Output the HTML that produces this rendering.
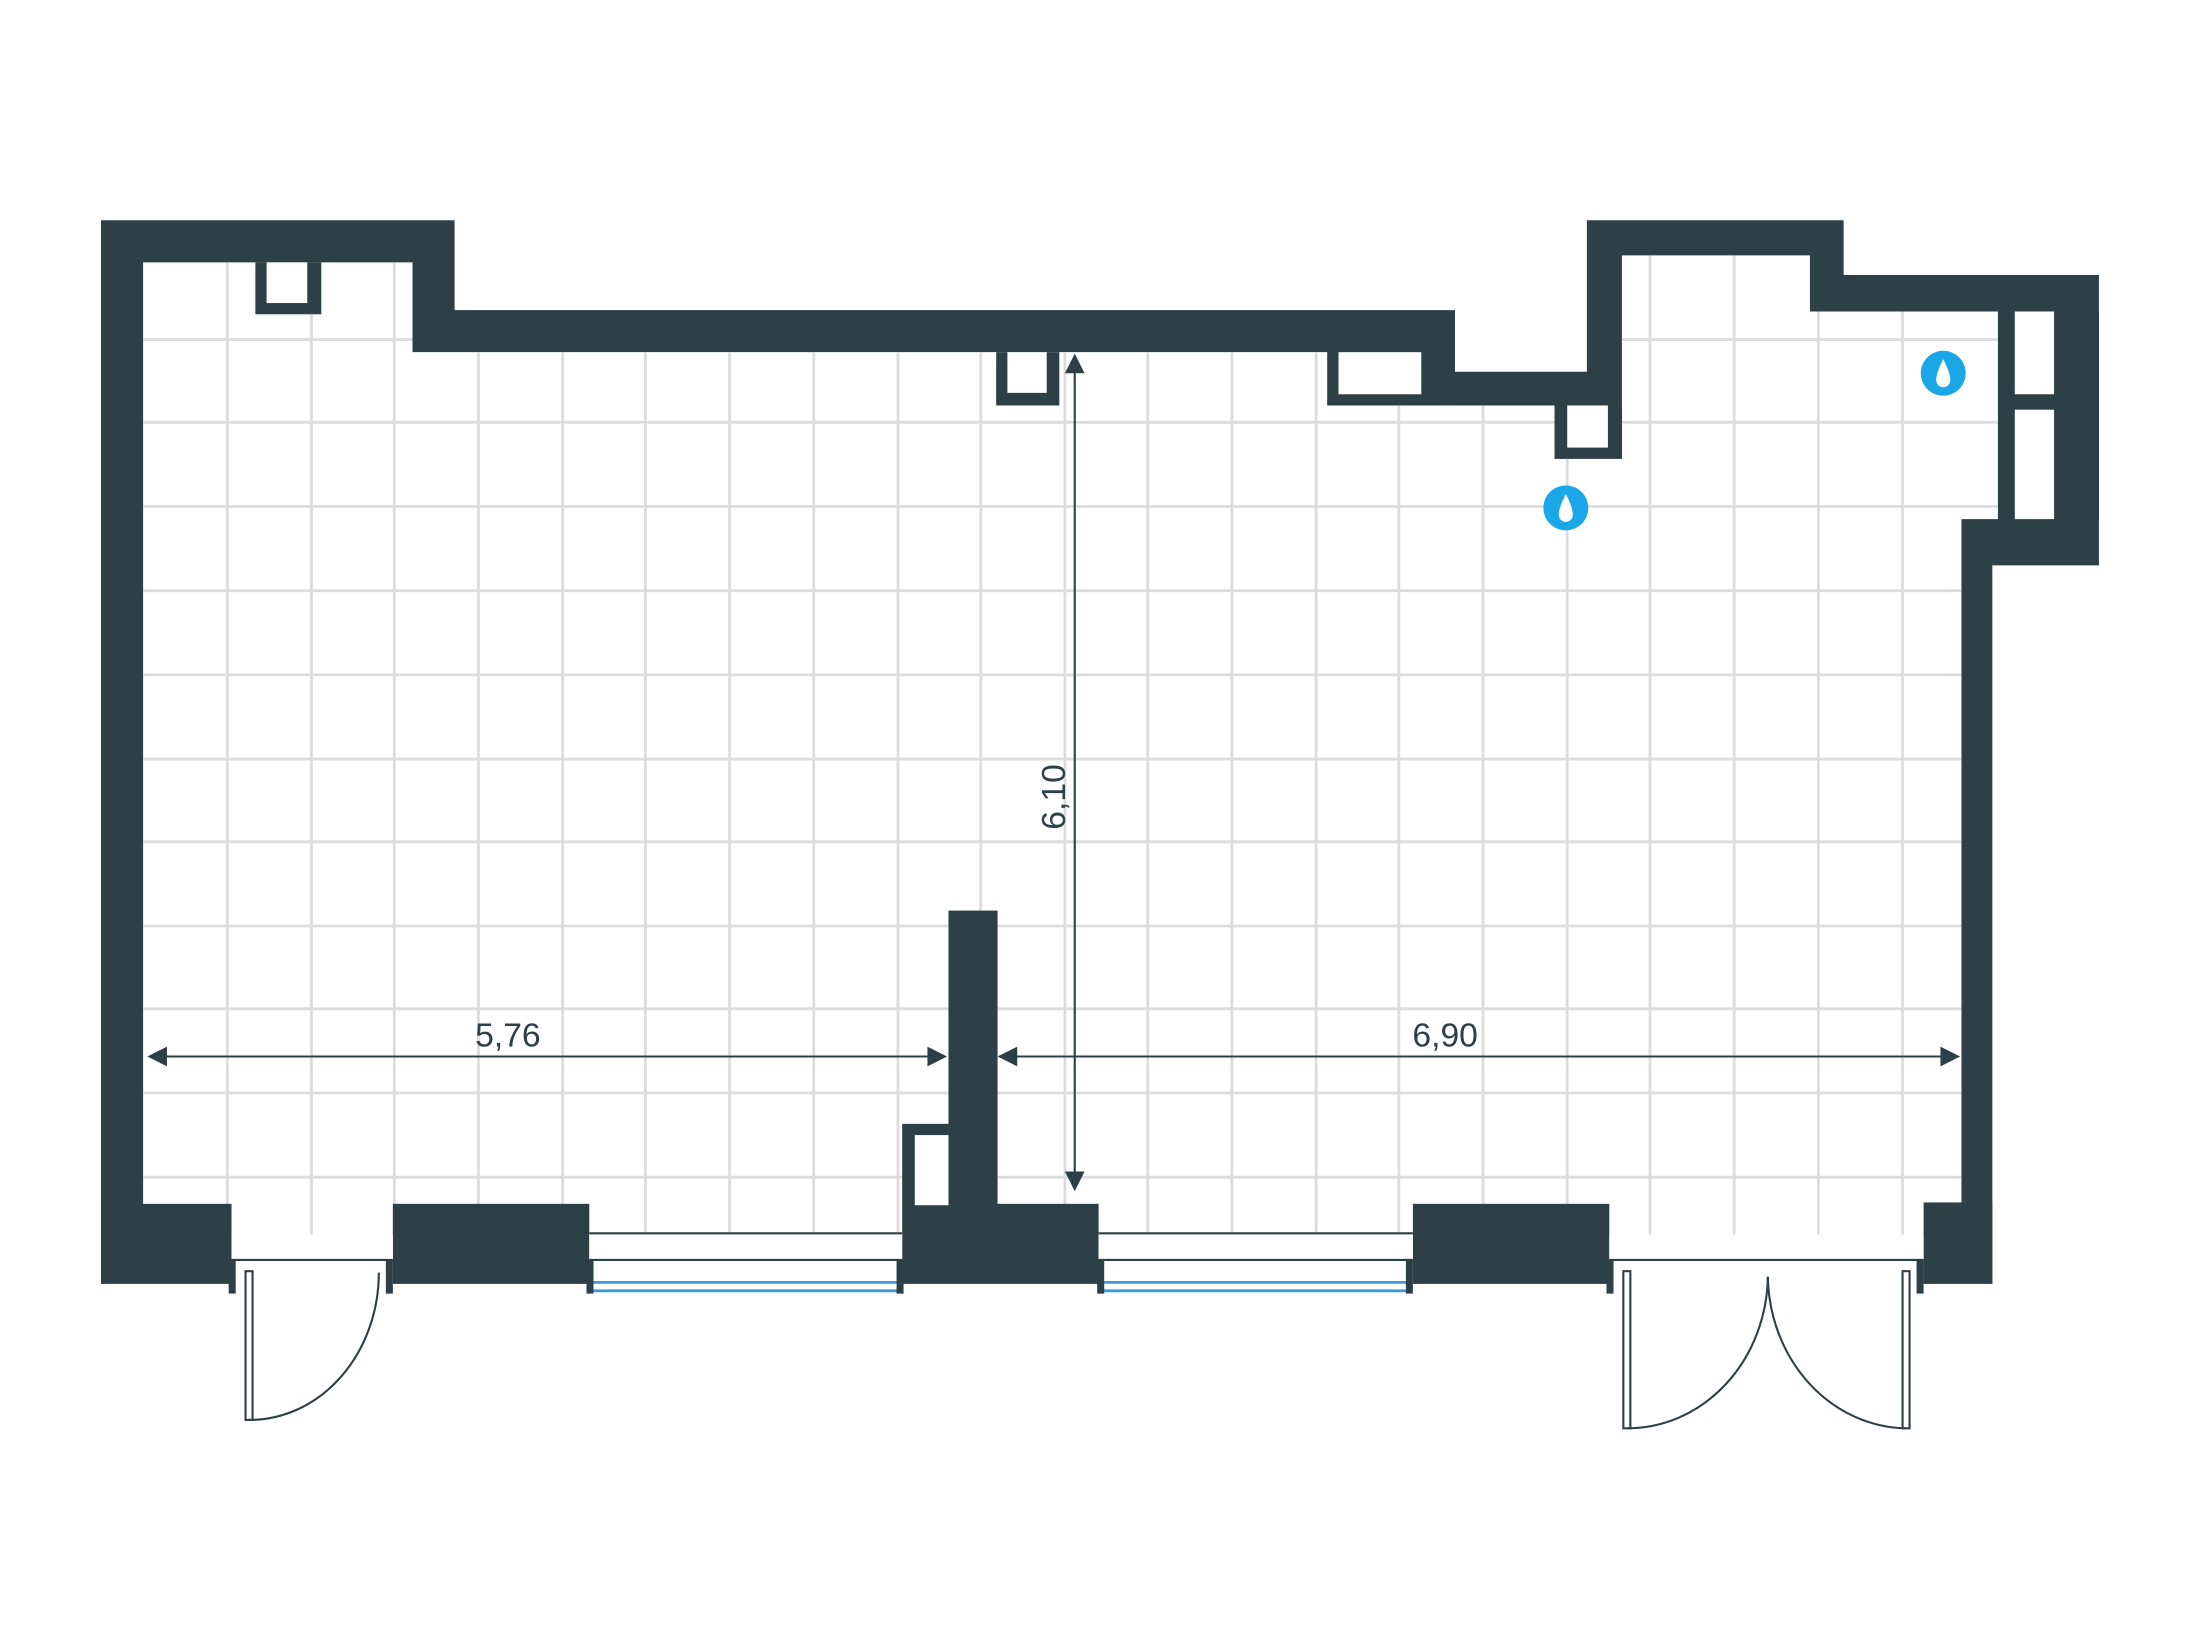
<!DOCTYPE html>
<html><head><meta charset="utf-8"><style>
html,body{margin:0;padding:0;background:#fff;}
svg{display:block;}
</style></head><body>
<svg width="2200" height="1650" viewBox="0 0 1568 1176" xmlns="http://www.w3.org/2000/svg">
<defs>
<clipPath id="room">
<polygon points="102,187 294,187 294,251 946,251 946,289 1108,289 1108,327 1156,327 1156,182 1290,182 1290,222 1424,222 1424,370 1398,370 1398,898 102,898"/>
</clipPath>
</defs>
<rect width="1568" height="1176" fill="#fff"/>
<polygon fill="#2e4047" points="72,157 324,157 324,221 1037,221 1037,265 1131,265 1131,157 1314,157 1314,196 1496,196 1496,403 1420,403 1420,915 72,915"/>
<polygon fill="#fff" points="102,187 294,187 294,251 946,251 946,289 1108,289 1108,327 1156,327 1156,182 1290,182 1290,222 1424,222 1424,370 1398,370 1398,898 102,898"/>
<g clip-path="url(#room)" stroke="#dcdcdc" stroke-width="2">
<line x1="162" y1="150" x2="162" y2="900"/><line x1="222" y1="150" x2="222" y2="900"/><line x1="281" y1="150" x2="281" y2="900"/><line x1="341" y1="150" x2="341" y2="900"/><line x1="401" y1="150" x2="401" y2="900"/><line x1="460" y1="150" x2="460" y2="900"/><line x1="520" y1="150" x2="520" y2="900"/><line x1="580" y1="150" x2="580" y2="900"/><line x1="640" y1="150" x2="640" y2="900"/><line x1="699" y1="150" x2="699" y2="900"/><line x1="759" y1="150" x2="759" y2="900"/><line x1="818" y1="150" x2="818" y2="900"/><line x1="878" y1="150" x2="878" y2="900"/><line x1="938" y1="150" x2="938" y2="900"/><line x1="997" y1="150" x2="997" y2="900"/><line x1="1057" y1="150" x2="1057" y2="900"/><line x1="1117" y1="150" x2="1117" y2="900"/><line x1="1176" y1="150" x2="1176" y2="900"/><line x1="1236" y1="150" x2="1236" y2="900"/><line x1="1296" y1="150" x2="1296" y2="900"/><line x1="1356" y1="150" x2="1356" y2="900"/>
<line x1="100" y1="242" x2="1430" y2="242"/><line x1="100" y1="301" x2="1430" y2="301"/><line x1="100" y1="361" x2="1430" y2="361"/><line x1="100" y1="421" x2="1430" y2="421"/><line x1="100" y1="481" x2="1430" y2="481"/><line x1="100" y1="541" x2="1430" y2="541"/><line x1="100" y1="600" x2="1430" y2="600"/><line x1="100" y1="660" x2="1430" y2="660"/><line x1="100" y1="719" x2="1430" y2="719"/><line x1="100" y1="779" x2="1430" y2="779"/><line x1="100" y1="839" x2="1430" y2="839"/>
</g>
<rect x="1424" y="222" width="72" height="148" fill="#2e4047"/>
<rect x="1436" y="222" width="28" height="59" fill="#fff"/>
<rect x="1436" y="292" width="28" height="78" fill="#fff"/>
<rect x="182" y="187" width="47" height="37" fill="#2e4047"/><rect x="190" y="187" width="29" height="29" fill="#fff"/>
<rect x="710" y="251" width="45" height="38" fill="#2e4047"/><rect x="718" y="251" width="28" height="29" fill="#fff"/>
<rect x="946" y="251" width="91" height="38" fill="#2e4047"/><rect x="954" y="251" width="59" height="30" fill="#fff"/>
<rect x="1108" y="289" width="48" height="38" fill="#2e4047"/><rect x="1117" y="289" width="29" height="30" fill="#fff"/>
<g fill="#2e4047">
<rect x="72" y="858" width="93" height="57"/>
<rect x="280" y="858" width="140" height="57"/>
<rect x="643" y="858" width="140" height="57"/>
<rect x="676" y="649" width="35" height="210"/>
<rect x="643" y="801" width="33" height="58"/>
<rect x="1007" y="858" width="140" height="57"/>
<rect x="1371" y="857" width="49" height="58"/>
</g>
<rect x="652" y="809" width="24" height="50" fill="#fff"/>
<rect x="165" y="880" width="115" height="40" fill="#fff"/>
<rect x="1147" y="880" width="224" height="40" fill="#fff"/>
<line x1="165" y1="898" x2="280" y2="898" stroke="#2e4047" stroke-width="1.5"/>
<line x1="1147" y1="898" x2="1371" y2="898" stroke="#2e4047" stroke-width="1.5"/>
<g>
<rect x="420" y="878" width="223" height="38" fill="#fff"/>
<rect x="783" y="878" width="224" height="38" fill="#fff"/>
<line x1="420" y1="879" x2="643" y2="879" stroke="#2e4047" stroke-width="1.5"/>
<line x1="420" y1="898" x2="643" y2="898" stroke="#2e4047" stroke-width="1.5"/>
<line x1="783" y1="879" x2="1007" y2="879" stroke="#2e4047" stroke-width="1.5"/>
<line x1="783" y1="898" x2="1007" y2="898" stroke="#2e4047" stroke-width="1.5"/>
<g stroke="#3a9be0" stroke-width="2">
<line x1="422" y1="914" x2="641" y2="914"/><line x1="422" y1="920" x2="641" y2="920"/>
<line x1="785" y1="914" x2="1005" y2="914"/><line x1="785" y1="920" x2="1005" y2="920"/>
</g>
<g fill="#2e4047">
<rect x="418" y="898" width="5" height="24"/><rect x="639" y="898" width="5" height="24"/>
<rect x="782" y="898" width="5" height="24"/><rect x="1002" y="898" width="5" height="24"/>
</g>
</g>
<g fill="#2e4047">
<rect x="163" y="898" width="5" height="24"/><rect x="275" y="898" width="5" height="24"/>
<rect x="1145" y="898" width="5" height="24"/><rect x="1366" y="898" width="5" height="24"/>
</g>
<g fill="none" stroke="#2e4047" stroke-width="1.5">
<rect x="175" y="906" width="5" height="106"/>
<path d="M270,907 A92,105 0 0 1 177,1012"/>
<rect x="1157" y="906" width="5" height="112"/>
<rect x="1356" y="906" width="5" height="112"/>
<path d="M1160,1018 A100,110 0 0 0 1260,910"/>
<path d="M1358,1018 A100,110 0 0 1 1260,910"/>
</g>
<g stroke="#2e4047" stroke-width="1.5" fill="#2e4047">
<line x1="108" y1="753" x2="672" y2="753"/>
<line x1="714" y1="753" x2="1395" y2="753"/>
<line x1="766" y1="256" x2="766" y2="845"/>
<polygon points="105,753 119,746 119,760" stroke="none"/>
<polygon points="675,753 661,746 661,760" stroke="none"/>
<polygon points="711,753 725,746 725,760" stroke="none"/>
<polygon points="1397,753 1383,746 1383,760" stroke="none"/>
<polygon points="766,252 759,266 773,266" stroke="none"/>
<polygon points="766,849 759,835 773,835" stroke="none"/>
</g>
<g font-family="Liberation Sans, sans-serif" font-size="24" fill="#2e4047" text-anchor="middle">
<text x="362" y="746">5,76</text>
<text x="1030" y="746">6,90</text>
<text x="0" y="0" transform="translate(759,568) rotate(-90)">6,10</text>
</g>
<g>
<circle cx="1116" cy="362" r="16" fill="#1aa7e8"/>
<path d="M1116,352 C1112,360 1111,364 1111,367 A5,5 0 0 0 1121,367 C1121,364 1120,360 1116,352Z" fill="#fff"/>
<circle cx="1385" cy="266" r="16" fill="#1aa7e8"/>
<path d="M1385,256 C1381,264 1380,268 1380,271 A5,5 0 0 0 1390,271 C1390,268 1389,264 1385,256Z" fill="#fff"/>
</g>
</svg>
</body></html>
